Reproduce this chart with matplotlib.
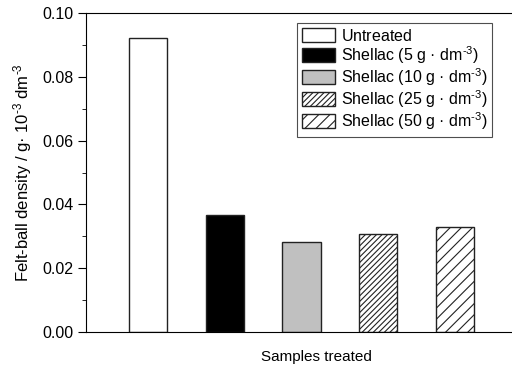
import numpy as np
import matplotlib
matplotlib.use("Agg")
import matplotlib.pyplot as plt
from matplotlib.ticker import MultipleLocator

plt.rcParams['font.family'] = ['Liberation Sans', 'DejaVu Sans']
plt.rcParams['mathtext.fontset'] = 'custom'
plt.rcParams['mathtext.rm'] = 'Liberation Sans'
plt.rcParams['mathtext.it'] = 'Liberation Sans:italic'
plt.rcParams['hatch.linewidth'] = 0.8

# data
sup = '$^{\\text{-}3}$'
labels = ['Untreated',
          'Shellac (5 g \u00b7 dm' + sup + ')',
          'Shellac (10 g \u00b7 dm' + sup + ')',
          'Shellac (25 g \u00b7 dm' + sup + ')',
          'Shellac (50 g \u00b7 dm' + sup + ')']
density = [0.0923, 0.0367, 0.0282, 0.0308, 0.0328]
fills = ['white', 'black', '#c0c0c0', 'white', 'white']
hatches = [None, None, None, '//////', '///']

fig = plt.figure(figsize=(5.12, 3.66), dpi=100)
ax = fig.add_axes([86/512, 34/366, 460/512, 319/366])

xpos = np.arange(1, len(density) + 1)
for x, v, c, h, lab in zip(xpos, density, fills, hatches, labels):
    ax.bar(x, v, width=0.5, color=c, edgecolor='#222222', linewidth=1.0,
           hatch=h, label=lab + '$\\hspace{0.7}$')

ax.set_xlim(0.19, 6.19)
ax.set_ylim(0, 0.10)
ax.yaxis.set_major_locator(MultipleLocator(0.02))
ax.yaxis.set_minor_locator(MultipleLocator(0.01))
ax.yaxis.set_major_formatter(plt.FormatStrFormatter('%.2f'))
ax.tick_params(axis='y', which='major', direction='out', length=6, labelsize=11.5, pad=3)
ax.tick_params(axis='y', which='minor', direction='out', length=3)
ax.set_xticks([])
ax.set_ylabel('Felt-ball density / g\u00b7 10' + sup + ' dm' + sup, fontsize=12, labelpad=6)
ax.set_xlabel('Samples treated', fontsize=11, labelpad=13)

leg = ax.legend(loc='upper left', bbox_to_anchor=(211/460, 1 - 10/319),
                fontsize=11.5, frameon=True, fancybox=False, edgecolor='#222222',
                handlelength=2.1, handleheight=0.95, handletextpad=0.35,
                labelspacing=0.02, borderpad=0.3, borderaxespad=0)
leg.get_frame().set_linewidth(0.8)

fig.savefig('out.png', dpi=100)
